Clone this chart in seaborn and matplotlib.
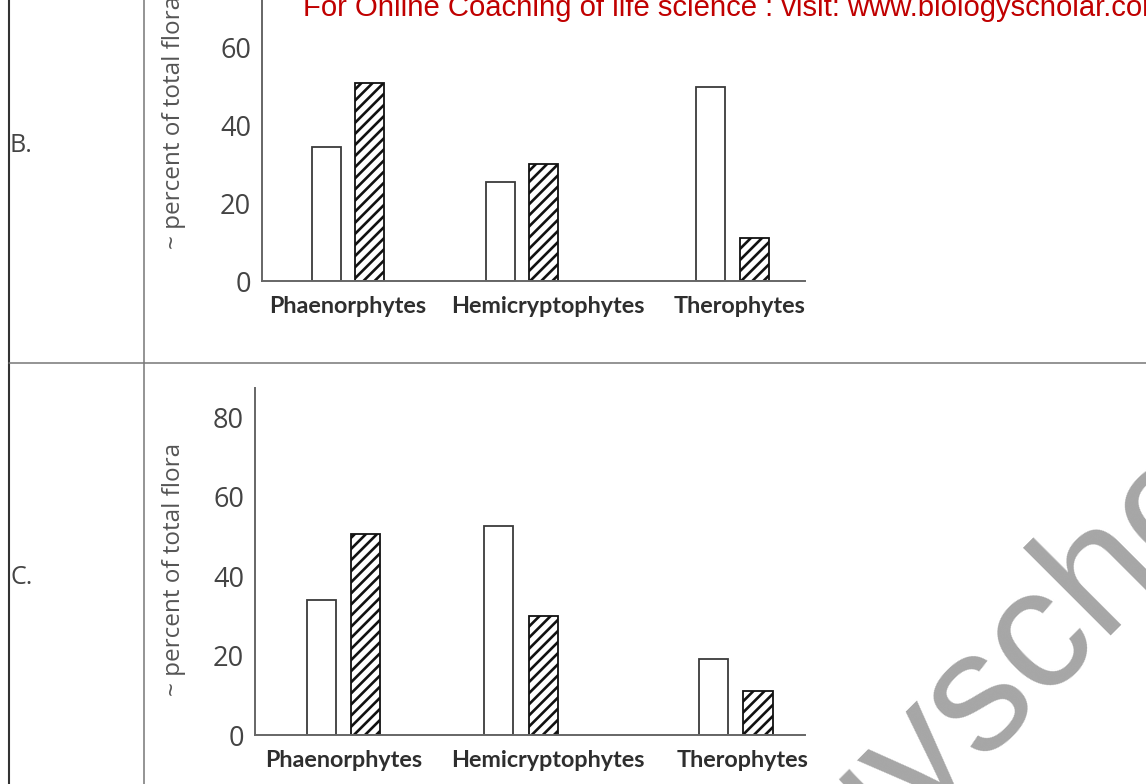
import matplotlib
matplotlib.use("Agg")
import matplotlib.pyplot as plt
import pandas as pd
import seaborn as sns
from matplotlib.lines import Line2D

# ---- data -------------------------------------------------------------
categories = ["Phaenorphytes", "Hemicryptophytes", "Therophytes"]
series = ["first", "second"]
b_first = [34.5, 25.5, 50.0]
b_second = [51.0, 30.0, 11.0]
c_first = [34.0, 52.5, 19.0]
c_second = [50.5, 30.0, 11.0]
yticks_b = [0, 20, 40, 60]
yticks_c = [0, 20, 40, 60, 80]
panel_labels = ["B.", "C."]
ylabel = "~ percent of total flora"
banner = "For Online Coaching of life science : visit: www.biologyscholar.com"
watermark = "biologyscholar"

# ---- layout -----------------------------------------------------------
group_pos = [0.0, 1.0, 2.21]      # bar-group centres on the x scale
label_pos = [0.0, 1.15, 2.25]     # category label centres
W, H = 1146, 784

sns.set_style("white")
plt.rcParams["hatch.linewidth"] = 1.9
plt.rcParams["font.family"] = ["Open Sans", "DejaVu Sans"]

fig = plt.figure(figsize=(W / 100, H / 100), dpi=100)
fig.patch.set_facecolor("white")


def frame(first, second):
    rows = []
    for i, cat in enumerate(categories):
        rows.append({"x": group_pos[i], "series": series[0], "value": first[i]})
        rows.append({"x": group_pos[i], "series": series[1], "value": second[i]})
    return pd.DataFrame(rows)


def panel(rect, first, second, yticks, ymax, xlim, ylabel_xy):
    ax = fig.add_axes(rect)
    sns.barplot(data=frame(first, second), x="x", y="value", hue="series",
                native_scale=True, width=0.5, gap=0.34, errorbar=None,
                palette=["white", "white"], linewidth=1.3, legend=False, ax=ax)
    open_bars, hatched_bars = ax.containers[0], ax.containers[1]
    for p in open_bars:
        p.set_edgecolor("#3a3a3a")
        p.set_facecolor("white")
    for p in hatched_bars:
        p.set_edgecolor("#111111")
        p.set_facecolor("white")
        p.set_hatch("///")
    ax.set_xlim(*xlim)
    ax.set_ylim(0, ymax)
    ax.set_yticks(yticks)
    ax.set_xticks(label_pos, labels=categories)
    for lab in ax.get_xticklabels():
        lab.set_fontfamily(["Lato", "DejaVu Sans"])
        lab.set_fontweight("bold")
        lab.set_fontsize(16.8)
        lab.set_color("#2e2e2e")
    ax.tick_params(axis="x", length=0, pad=11)
    ax.tick_params(axis="y", direction="in", length=7, width=1.1,
                   color="#666666", labelsize=19.5, labelcolor="#444444", pad=8)
    for side in ("top", "right"):
        ax.spines[side].set_visible(False)
    for side in ("left", "bottom"):
        ax.spines[side].set_color("#666666")
        ax.spines[side].set_linewidth(1.4)
    ax.set_xlabel("")
    ax.set_ylabel(ylabel, fontsize=17.5, color="#555555")
    ax.yaxis.set_label_coords(*ylabel_xy)
    ax.set_facecolor("none")
    return ax


# panel B (top of its axis runs past the top edge)
panel([262 / W, 1 - 281 / H, 543 / W, 334 / H], b_first, b_second,
      yticks_b, 86.0, (-0.494, 2.626), (-0.140, 0.476))
# panel C
panel([255 / W, 1 - 735 / H, 550 / W, 347 / H], c_first, c_second,
      yticks_c, 87.3, (-0.499, 2.600), (-0.125, 0.477))

# table rules
fig.add_artist(Line2D([8.5 / W, 8.5 / W], [0, 1], color="#333333", lw=1.5))
fig.add_artist(Line2D([143.5 / W, 143.5 / W], [0, 1], color="#777777", lw=1.1))
fig.add_artist(Line2D([8.5 / W, 1], [1 - 363 / H, 1 - 363 / H], color="#777777", lw=1.1))

# row labels
fig.text(10 / W, 1 - 145 / H, panel_labels[0], fontsize=18, color="#444444", va="center")
fig.text(10 / W, 1 - 578 / H, panel_labels[1], fontsize=18, color="#444444", va="center")

# banner line
fig.text(303 / W, 1 - 16 / H, banner, color="#c00000", fontsize=21.1,
         family=["Liberation Sans", "DejaVu Sans"], ha="left", va="baseline")

# diagonal watermark
fig.text(596 / W, 1 - 1139 / H, watermark, color="#a6a6a6", fontsize=123,
         family=["Liberation Sans", "DejaVu Sans"], rotation=45,
         rotation_mode="anchor", ha="left", va="baseline", zorder=10)

fig.savefig("out.png", dpi=100, facecolor="white")
